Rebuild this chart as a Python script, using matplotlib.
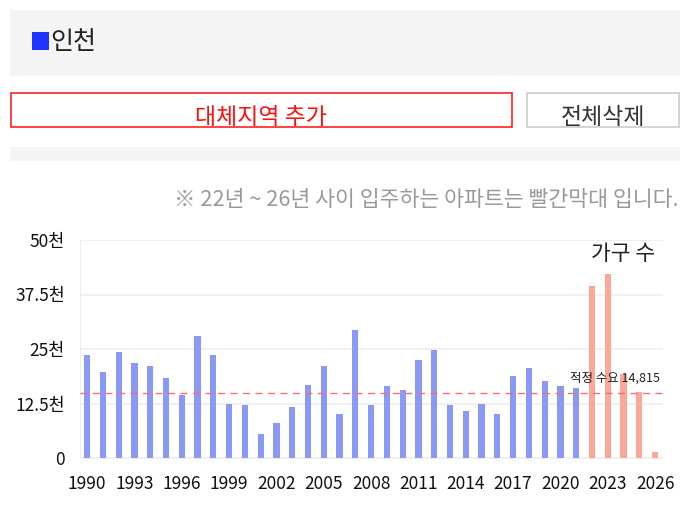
import matplotlib
matplotlib.use("Agg")
import matplotlib.pyplot as plt
from matplotlib.patches import Rectangle

plt.rcParams['font.family'] = ['Noto Sans CJK KR', 'DejaVu Sans']

years = list(range(1990, 2027))
households = [23.7, 19.8, 24.4, 21.7, 21.0, 18.3, 14.4, 27.9, 23.7, 12.4,
              12.1, 5.5, 8.0, 11.6, 16.8, 21.0, 10.0, 29.4, 12.1, 16.6,
              15.5, 22.4, 24.7, 12.1, 10.7, 12.4, 10.2, 18.9, 20.7, 17.6,
              16.6, 16.0, 39.5, 42.1, 19.2, 15.1, 1.4]
households = [v * 1000 for v in households]
demand = 14815
y_ticks = [0, 12500, 25000, 37500, 50000]
y_labels = ['0', '12.5천', '25천', '37.5천', '50천']
x_ticks = list(range(1990, 2027, 3))

W, H = 681, 508
fig = plt.figure(figsize=(W / 100, H / 100), dpi=100)


def box(x0, y0, x1, y1, **kw):
    # pixel coords (top-left origin) -> figure fraction
    r = Rectangle((x0 / W, 1 - y1 / H), (x1 - x0) / W, (y1 - y0) / H,
                  transform=fig.transFigure, **kw)
    fig.patches.append(r)


def txt(x, y, s, **kw):
    fig.text(x / W, 1 - y / H, s, **kw)


# header panel
box(10, 10, 680, 76, facecolor='#f4f4f4', edgecolor='none')
box(32, 32, 49, 50, facecolor='#1f35ff', edgecolor='none')
txt(50, 42, '인천', fontsize=18, color='#222222', va='center', ha='left')

# buttons
box(10.5, 92.5, 511.5, 126.5, facecolor='white', edgecolor='#ff2020', linewidth=1.2)
txt(261, 117, '대체지역 추가', fontsize=16.5, color='#ff1010', va='center', ha='center',
    fontweight='medium')
box(526.5, 92.5, 679, 126.5, facecolor='white', edgecolor='#cccccc', linewidth=1.2)
txt(603, 117, '전체삭제', fontsize=16.5, color='#333333', va='center', ha='center',
    fontweight='medium')

box(10, 147, 680, 161, facecolor='#f4f4f4', edgecolor='none')
txt(679, 200, '※ 22년 ~ 26년 사이 입주하는 아파트는 빨간막대 입니다.', fontsize=15.6,
    color='#999999', va='center', ha='right')

# chart
ax = fig.add_axes([80 / W, 1 - 458 / H, (663 - 80) / W, (458 - 240) / H])
colors = ['#fca899' if y >= 2022 else '#8b99f6' for y in years]
ax.bar(years, households, width=0.4, color=colors, zorder=3)
ax.axhline(demand, color='#ff6b6b', linestyle=(0, (5, 4)), linewidth=1, zorder=4)

ax.set_xlim(1989.55, 2026.5)
ax.set_ylim(0, 50000)
ax.set_yticks(y_ticks)
ax.set_yticklabels(y_labels)
ax.set_xticks(x_ticks)
ax.tick_params(length=0, labelsize=12.5, colors='#111111')
ax.tick_params(axis='y', pad=11)
ax.tick_params(axis='x', pad=12)
ax.grid(axis='y', color='#eeeeee', linewidth=1.2, zorder=0)
for s in ['top', 'right']:
    ax.spines[s].set_visible(False)
ax.spines['left'].set_color('#eeeeee')
ax.spines['bottom'].set_color('#eeeeee')

ax.text(2026.3, demand + 1900, '적정 수요 14,815', fontsize=9, color='#222222',
        ha='right', va='bottom')
ax.text(2026.0, 49300, '가구 수', fontsize=15.5, color='#222222', ha='right', va='top')

fig.savefig('out.png', dpi=100)
